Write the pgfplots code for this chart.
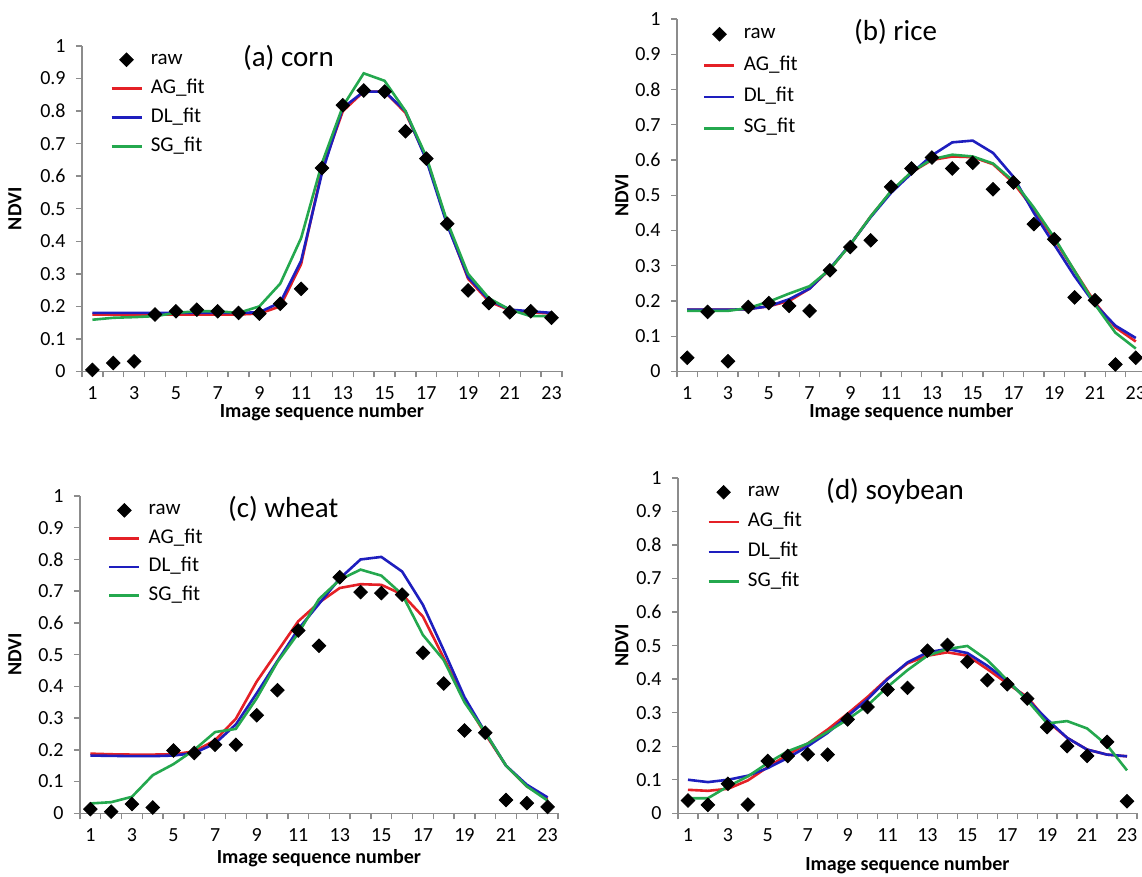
\documentclass[border=0pt]{standalone}
\usepackage{fontspec}
\setmainfont{Carlito}
\usepackage{pgfplots}
\usepackage{pgfplotstable}
\pgfplotsset{compat=1.18}

\definecolor{agred}{RGB}{228,32,38}
\definecolor{dlblue}{RGB}{30,30,190}
\definecolor{sggreen}{RGB}{36,168,78}
\definecolor{axgray}{RGB}{140,140,140}

% x raw AG DL SG
\pgfplotstableread{
x raw ag dl sg
1 0.005 0.175 0.180 0.159
2 0.026 0.175 0.180 0.165
3 0.031 0.175 0.180 0.167
4 0.175 0.175 0.180 0.170
5 0.185 0.175 0.180 0.180
6 0.190 0.175 0.180 0.185
7 0.185 0.175 0.180 0.185
8 0.180 0.175 0.180 0.180
9 0.178 0.178 0.182 0.200
10 0.208 0.200 0.212 0.270
11 0.254 0.330 0.340 0.410
12 0.625 0.620 0.610 0.640
13 0.818 0.800 0.810 0.815
14 0.863 0.860 0.860 0.916
15 0.860 0.860 0.860 0.893
16 0.738 0.795 0.800 0.800
17 0.654 0.655 0.650 0.660
18 0.454 0.455 0.450 0.460
19 0.249 0.285 0.290 0.300
20 0.210 0.215 0.220 0.225
21 0.182 0.188 0.190 0.190
22 0.185 0.182 0.185 0.170
23 0.165 0.178 0.180 0.170
}\corn

\pgfplotstableread{
x raw ag dl sg
1 0.039 0.175 0.175 0.172
2 0.169 0.175 0.175 0.172
3 0.029 0.175 0.175 0.172
4 0.183 0.177 0.177 0.180
5 0.194 0.185 0.185 0.198
6 0.186 0.200 0.205 0.221
7 0.172 0.235 0.235 0.242
8 0.287 0.290 0.292 0.290
9 0.353 0.360 0.361 0.360
10 0.372 0.440 0.438 0.440
11 0.524 0.510 0.507 0.512
12 0.576 0.565 0.562 0.566
13 0.607 0.600 0.613 0.602
14 0.576 0.610 0.650 0.615
15 0.592 0.608 0.655 0.610
16 0.517 0.588 0.620 0.590
17 0.536 0.535 0.552 0.540
18 0.418 0.460 0.450 0.465
19 0.375 0.375 0.360 0.380
20 0.210 0.285 0.270 0.285
21 0.202 0.195 0.190 0.190
22 0.020 0.125 0.130 0.110
23 0.039 0.085 0.095 0.065
}\rice

\pgfplotstableread{
x raw ag dl sg
1 0.013 0.188 0.182 0.031
2 0.005 0.186 0.181 0.035
3 0.029 0.185 0.180 0.052
4 0.018 0.185 0.180 0.120
5 0.198 0.186 0.182 0.155
6 0.190 0.195 0.190 0.200
7 0.216 0.230 0.220 0.256
8 0.216 0.298 0.280 0.266
9 0.309 0.415 0.378 0.362
10 0.388 0.510 0.480 0.477
11 0.576 0.605 0.580 0.567
12 0.528 0.664 0.660 0.675
13 0.744 0.710 0.740 0.736
14 0.697 0.722 0.800 0.768
15 0.694 0.720 0.808 0.749
16 0.689 0.690 0.762 0.690
17 0.506 0.620 0.657 0.562
18 0.409 0.490 0.514 0.483
19 0.261 0.356 0.366 0.350
20 0.254 0.250 0.255 0.255
21 0.042 0.150 0.150 0.150
22 0.032 0.085 0.090 0.085
23 0.020 0.045 0.050 0.040
}\wheat

\pgfplotstableread{
x raw ag dl sg
1 0.038 0.070 0.100 0.045
2 0.025 0.067 0.093 0.045
3 0.088 0.073 0.100 0.080
4 0.026 0.098 0.112 0.110
5 0.156 0.138 0.135 0.150
6 0.171 0.175 0.165 0.185
7 0.176 0.208 0.200 0.208
8 0.175 0.250 0.240 0.243
9 0.280 0.297 0.290 0.280
10 0.317 0.347 0.340 0.322
11 0.369 0.402 0.400 0.377
12 0.374 0.447 0.450 0.427
13 0.485 0.470 0.480 0.470
14 0.502 0.480 0.490 0.490
15 0.452 0.470 0.478 0.499
16 0.397 0.430 0.440 0.457
17 0.385 0.387 0.395 0.397
18 0.342 0.347 0.340 0.337
19 0.257 0.275 0.280 0.268
20 0.200 0.225 0.225 0.275
21 0.171 0.190 0.190 0.253
22 0.213 0.175 0.175 0.203
23 0.036 0.170 0.170 0.128
}\soybean

\pgfplotsset{
  ndvi/.style={
    scale only axis, anchor=south west,
    xmin=0.5, xmax=23.5, ymin=0, ymax=1,
    axis x line*=bottom, axis y line*=left,
    axis line style={axgray, line width=0.7pt},
    clip=false,
    tick align=outside,
    xtick={1,3,...,23},
    minor xtick={0.5,1.5,...,23.5},
    ytick={0,0.1,0.2,0.3,0.4,0.5,0.6,0.7,0.8,0.9,1},
    major x tick style={draw=none},
    every tick/.style={axgray, line width=0.7pt},
    major tick length=3pt, minor tick length=3pt,
    tick label style={font=\fontsize{10}{11}\selectfont},
    /pgf/number format/assume math mode=true,
    xticklabel style={anchor=center, yshift=-8pt},
    yticklabel style={anchor=east, inner sep=0pt, xshift=-5pt},
    xlabel={Image sequence number},
    ylabel={NDVI},
    legend cell align=left,
    legend image code/.code={\draw[mark repeat=2,mark phase=2,#1]
      plot coordinates {(0pt,0pt) (7.5pt,0pt) (15pt,0pt)};},
    legend style={anchor=north west, draw=none, fill=none, inner sep=0pt,
      column sep=4pt, font=\fontsize{10.5}{12}\selectfont,
      nodes={inner sep=0pt, text height=7pt, text depth=2.5pt}},
  },
  % label placement: #1 = ylabel shift, #2 = xlabel shift
  labs/.style 2 args={
    every axis y label/.style={at={([xshift=#1]axis description cs:0,0.5)},
      rotate=90, anchor=center, font=\bfseries\fontsize{10}{12}\selectfont},
    every axis x label/.style={at={([yshift=#2]axis description cs:0.5,0)},
      anchor=center, inner sep=0pt, font=\bfseries\fontsize{10}{12}\selectfont},
  },
  ttl/.style n args={3}{
    title={#1},
    every axis title/.style={at={(axis description cs:#2,#3)}, anchor=center,
      font=\fontsize{14.5}{16}\selectfont},
  },
  raw/.style={only marks, mark=square*, mark size=2.4pt,
    mark options={rotate=45, fill=black, draw=black}},
  ag/.style={agred, line width=1.3pt, mark=none},
  dl/.style={dlblue, line width=1.3pt, mark=none},
  sg/.style={sggreen, line width=1.3pt, mark=none},
}

\begin{document}
\begin{tikzpicture}
\useasboundingbox (0,0) rectangle (571pt,438.5pt);

% (a) corn
\begin{axis}[ndvi, at={(41pt,252.75pt)}, width=240pt, height=162.75pt,
  labs={-33.5pt}{-20.5pt}, ttl={(a) corn}{0.43}{0.962},
  legend style={at={(axis description cs:0.058,0.988)}, row sep=5pt}]
\addplot[raw] table[x=x, y=raw] {\corn};
\addplot[ag] table[x=x, y=ag] {\corn};
\addplot[dl] table[x=x, y=dl] {\corn};
\addplot[sg] table[x=x, y=sg] {\corn};
\legend{raw, AG\_fit, DL\_fit, SG\_fit}
\end{axis}

% (b) rice
\begin{axis}[ndvi, at={(338.5pt,252.75pt)}, width=234.5pt, height=176.25pt,
  labs={-27.5pt}{-20.5pt}, ttl={(b) rice}{0.466}{0.962},
  legend style={at={(axis description cs:0.055,0.985)}, row sep=6.2pt}]
\addplot[raw] table[x=x, y=raw] {\rice};
\addplot[ag] table[x=x, y=ag] {\rice};
\addplot[dl] table[x=x, y=dl] {\rice};
\addplot[sg] table[x=x, y=sg] {\rice};
\legend{raw, AG\_fit, DL\_fit, SG\_fit}
\end{axis}

% (c) wheat
\begin{axis}[ndvi, at={(40pt,31.85pt)}, width=239pt, height=158.65pt,
  labs={-32.5pt}{-22.5pt}, ttl={(c) wheat}{0.425}{0.96},
  legend style={at={(axis description cs:0.058,0.986)}, row sep=4.7pt}]
\addplot[raw] table[x=x, y=raw] {\wheat};
\addplot[ag] table[x=x, y=ag] {\wheat};
\addplot[dl] table[x=x, y=dl] {\wheat};
\addplot[sg] table[x=x, y=sg] {\wheat};
\legend{raw, AG\_fit, DL\_fit, SG\_fit}
\end{axis}

% (d) soybean
\begin{axis}[ndvi, at={(339pt,31.85pt)}, width=229.5pt, height=167.65pt,
  labs={-28pt}{-26pt}, ttl={(d) soybean}{0.473}{0.96},
  legend style={at={(axis description cs:0.063,0.987)}, row sep=5.4pt}]
\addplot[raw] table[x=x, y=raw] {\soybean};
\addplot[ag] table[x=x, y=ag] {\soybean};
\addplot[dl] table[x=x, y=dl] {\soybean};
\addplot[sg] table[x=x, y=sg] {\soybean};
\legend{raw, AG\_fit, DL\_fit, SG\_fit}
\end{axis}
\end{tikzpicture}
\end{document}
